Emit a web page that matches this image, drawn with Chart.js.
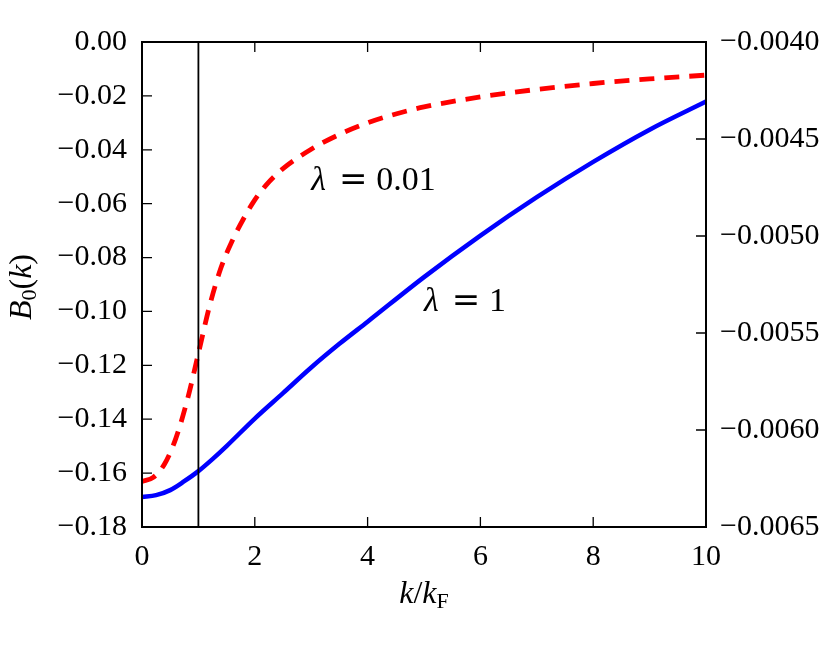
<!DOCTYPE html>
<html lang="en">
<head>
<meta charset="UTF-8">
<title>B0(k)</title>
<style>
  html, body { margin: 0; padding: 0; background: #fff; }
  canvas { display: block; }
</style>
</head>
<body>
<canvas id="myChart" width="830" height="646"></canvas>

<script src="https://cdn.jsdelivr.net/npm/chart.js@4.4.1/dist/chart.umd.min.js"></script>
<script>
// lambda = 0.01, left axis
var kRed = [0, 0.2, 0.4, 0.6, 0.8, 1.0, 1.2, 1.4, 1.6, 1.8, 2.0, 2.2, 2.5, 3.0, 3.5, 4.0, 4.5, 5.0, 6.0, 7.0, 8.0, 9.0, 10.0];
var bRed = [-0.1631, -0.1616, -0.1566, -0.1471, -0.1331, -0.1156, -0.0978, -0.0838, -0.0738, -0.0656,
            -0.0586, -0.0531, -0.0470, -0.0398, -0.0343, -0.0300, -0.0267, -0.0241, -0.0204, -0.0176,
            -0.0154, -0.0137, -0.0123];

// lambda = 1, right axis
var kBlue = [0, 0.25, 0.5, 0.75, 1.0, 1.25, 1.5, 2.0, 2.5, 3.0, 3.5, 4.0, 5.0, 6.0, 7.0, 8.0, 9.0, 10.0];
var bBlue = [-0.006346, -0.006336, -0.006310, -0.006264, -0.006212, -0.006150, -0.006083, -0.005941, -0.005810,
             -0.005678, -0.005556, -0.005442, -0.005212, -0.004998, -0.004800, -0.004618, -0.004452, -0.004307];

var kFermi = 1;

var xTicks = [0, 2, 4, 6, 8, 10];
var leftTicks = [-0.18, -0.16, -0.14, -0.12, -0.10, -0.08, -0.06, -0.04, -0.02, 0.00];
var rightTicks = [-0.0065, -0.0060, -0.0055, -0.0050, -0.0045, -0.0040];

var SERIF = '"Liberation Serif", "DejaVu Serif", serif';

function fmt(v, digits) {
    var s = Math.abs(v).toFixed(digits);
    return (v < 0 && Math.abs(v) > 1e-12) ? '\u2212' + s : s;
}

function pts(xs, ys) {
    return xs.map(function (x, i) { return { x: x, y: ys[i] }; });
}

// draw a row of text pieces; each piece: [text, italic, size, dy]
function rich(ctx, parts, x, y, align) {
    var w = 0;
    parts.forEach(function (p) {
        ctx.font = (p[1] ? 'italic ' : '') + p[2] + 'px ' + SERIF;
        p.w = ctx.measureText(p[0]).width;
        w += p.w;
    });
    var cx = align === 'center' ? x - w / 2 : x;
    ctx.textAlign = 'left';
    ctx.textBaseline = 'alphabetic';
    parts.forEach(function (p) {
        ctx.font = (p[1] ? 'italic ' : '') + p[2] + 'px ' + SERIF;
        ctx.fillText(p[0], cx, y + (p[3] || 0));
        cx += p.w;
    });
}

function lambdaLabel(ctx, lx, ly, value) {
    ctx.textBaseline = 'alphabetic';
    ctx.font = 'italic 34px ' + SERIF;
    ctx.textAlign = 'left';
    ctx.fillText('\u03bb', lx, ly);
    ctx.font = '34px "DejaVu Serif", serif';
    ctx.textAlign = 'center';
    ctx.fillText('=', lx + 42, ly);
    ctx.font = '34px ' + SERIF;
    ctx.textAlign = 'left';
    ctx.fillText(value, lx + 65, ly);
}

var frame = {
    id: 'frame',
    afterDatasetsDraw: function (chart) {
        var ctx = chart.ctx, a = chart.chartArea;
        var x = chart.scales.x, y = chart.scales.y, y1 = chart.scales.y1;
        ctx.save();
        ctx.strokeStyle = '#000';
        ctx.fillStyle = '#000';
        ctx.lineWidth = 1.3;
        ctx.beginPath();
        xTicks.forEach(function (v) {
            var px = x.getPixelForValue(v);
            ctx.moveTo(px, a.bottom); ctx.lineTo(px, a.bottom - 10);
            ctx.moveTo(px, a.top); ctx.lineTo(px, a.top + 10);
        });
        leftTicks.forEach(function (v) {
            var py = y.getPixelForValue(v);
            ctx.moveTo(a.left, py); ctx.lineTo(a.left + 10, py);
        });
        rightTicks.forEach(function (v) {
            var py = y1.getPixelForValue(v);
            ctx.moveTo(a.right, py); ctx.lineTo(a.right - 10, py);
        });
        ctx.stroke();
        ctx.lineWidth = 2;
        ctx.strokeRect(a.left, a.top, a.right - a.left, a.bottom - a.top);

        // curve labels, anchored in data coordinates
        lambdaLabel(ctx, x.getPixelForValue(3), y.getPixelForValue(-0.055), '0.01');
        lambdaLabel(ctx, x.getPixelForValue(5), y.getPixelForValue(-0.10), '1');

        // axis titles
        rich(ctx, [['k', true, 32], ['/', false, 32], ['k', true, 32], ['F', false, 22, 5]], 424, 603, 'center');

        ctx.translate(31, 287);
        ctx.rotate(-Math.PI / 2);
        rich(ctx, [['B', true, 32], ['0', false, 22, 5], ['(', false, 32], ['k', true, 32], [')', false, 32]], 0, 0, 'center');
        ctx.restore();
    }
};

var tickFont = { family: SERIF, size: 30 };

var ctx = document.getElementById('myChart').getContext('2d');
var myChart = new Chart(ctx, {
    type: 'line',
    data: {
        datasets: [
            {
                data: [{ x: kFermi, y: -0.18 }, { x: kFermi, y: 0 }],
                yAxisID: 'y',
                borderColor: '#000',
                borderWidth: 1.8,
                pointRadius: 0,
                order: 0
            },
            {
                data: pts(kBlue, bBlue),
                yAxisID: 'y1',
                borderColor: '#0000ff',
                borderWidth: 4.5,
                pointRadius: 0,
                cubicInterpolationMode: 'monotone',
                order: 1
            },
            {
                data: pts(kRed, bRed),
                yAxisID: 'y',
                borderColor: '#ff0000',
                borderWidth: 4.8,
                borderDash: [15, 10],
                pointRadius: 0,
                cubicInterpolationMode: 'monotone',
                order: 2
            }
        ]
    },
    options: {
        responsive: false,
        animation: false,
        devicePixelRatio: 1,
        layout: { padding: { top: 42, left: 0, right: 0, bottom: 0 } },
        plugins: { legend: { display: false }, tooltip: { enabled: false } },
        scales: {
            x: {
                type: 'linear',
                position: 'bottom',
                min: 0, max: 10,
                grid: { display: false, drawTicks: false },
                border: { display: false },
                afterBuildTicks: function (s) { s.ticks = xTicks.map(function (v) { return { value: v }; }); },
                afterFit: function (s) { s.height = 119; },
                ticks: {
                    autoSkip: false, maxRotation: 0, padding: 12, color: '#000', font: tickFont,
                    callback: function (v) { return String(v); }
                }
            },
            y: {
                type: 'linear',
                position: 'left',
                min: -0.18, max: 0,
                grid: { display: false, drawTicks: false },
                border: { display: false },
                afterBuildTicks: function (s) { s.ticks = leftTicks.map(function (v) { return { value: v }; }); },
                afterFit: function (s) { s.width = 142; },
                ticks: {
                    autoSkip: false, padding: 15, color: '#000', font: tickFont,
                    callback: function (v) { return fmt(v, 2); }
                }
            },
            y1: {
                type: 'linear',
                position: 'right',
                min: -0.0065, max: -0.0040,
                grid: { display: false, drawTicks: false },
                border: { display: false },
                afterBuildTicks: function (s) { s.ticks = rightTicks.map(function (v) { return { value: v }; }); },
                afterFit: function (s) { s.width = 124; },
                ticks: {
                    autoSkip: false, padding: 14, color: '#000', font: tickFont,
                    callback: function (v) { return fmt(v, 4); }
                }
            }
        }
    },
    plugins: [frame]
});
</script>
</body>
</html>
